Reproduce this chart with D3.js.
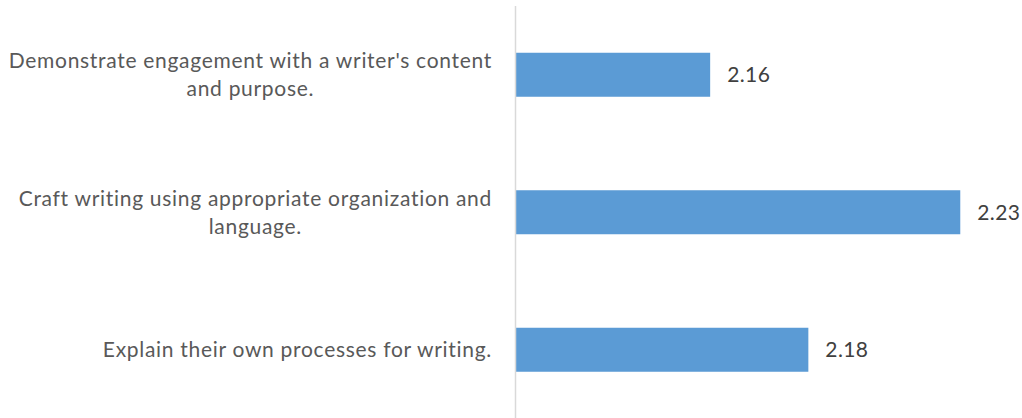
<!DOCTYPE html>
<html>
<head>
<meta charset="utf-8">
<script src="https://cdn.jsdelivr.net/npm/d3@7"></script>
<style>
  body { margin: 0; background: #fff; }
  text { font-family: Lato, "Open Sans", sans-serif; }
</style>
</head>
<body>
<script>
// data
var categories = [
  ["Demonstrate engagement with a writer's content", "and purpose."],
  ["Craft writing using appropriate organization and", "language."],
  ["Explain their own processes for writing."]
];
var values = [2.158, 2.2255, 2.1845];

var width = 1022, height = 418;
var fontSize = 21;

var svg = d3.select("body").append("svg")
  .attr("width", width)
  .attr("height", height);

var x = d3.scaleLinear().domain([2.1056, 2.24]).range([516, 1014]);
var y = d3.scaleBand()
  .domain(d3.range(values.length))
  .range([6, 418.5])
  .paddingInner(0.68)
  .paddingOuter(0.34);

var fmt = d3.format(".2f");

// bars
svg.selectAll("rect.bar")
  .data(values)
  .enter()
  .append("rect")
  .attr("class", "bar")
  .attr("x", x(x.domain()[0]))
  .attr("y", function(d, i){ return y(i); })
  .attr("width", function(d){ return x(d) - x(x.domain()[0]); })
  .attr("height", y.bandwidth())
  .attr("fill", "#5b9bd5");

// axis line
svg.append("line")
  .attr("x1", 515.5).attr("x2", 515.5)
  .attr("y1", 6).attr("y2", height)
  .attr("stroke", "#d9d9d9")
  .attr("stroke-width", 1.5);

// value labels
svg.selectAll("text.val")
  .data(values)
  .enter()
  .append("text")
  .attr("class", "val")
  .attr("x", function(d){ return x(d) + 17; })
  .attr("y", function(d, i){ return y(i) + y.bandwidth()/2; })
  .attr("dy", "0.35em")
  .attr("font-size", fontSize)
  .attr("letter-spacing", 0.4)
  .attr("fill", "#404040")
  .text(fmt);

// category labels: block right-aligned, lines centred inside the block
var lineH = 28;
var labelRight = 492;
categories.forEach(function(lines, i){
  var g = svg.append("g");
  var cy = y(i) + y.bandwidth()/2;
  var texts = g.selectAll("text")
    .data(lines)
    .enter()
    .append("text")
    .attr("y", function(d, j){ return cy + (j - (lines.length - 1)/2) * lineH; })
    .attr("dy", "0.35em")
    .attr("font-size", fontSize)
    .attr("letter-spacing", 0.7)
    .attr("fill", "#595959")
    .attr("text-anchor", "middle")
    .text(function(d){ return d; });
  var maxW = 0;
  texts.each(function(){ maxW = Math.max(maxW, this.getComputedTextLength()); });
  texts.attr("x", labelRight - maxW/2);
});
</script>
</body>
</html>
